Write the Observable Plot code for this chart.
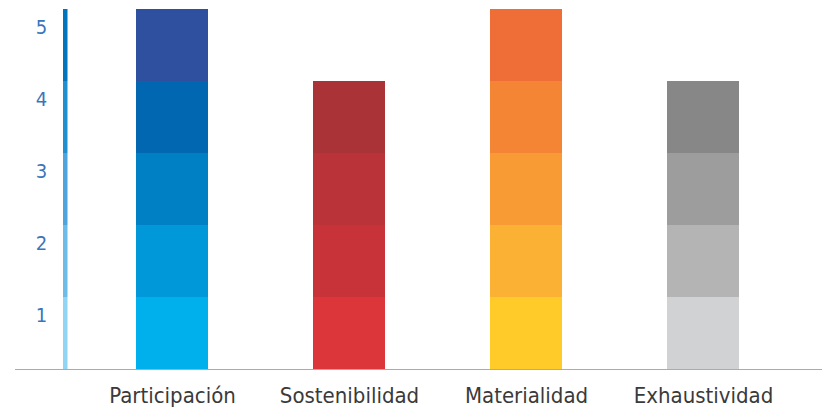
<!DOCTYPE html>
<html><head><meta charset="utf-8">
<script src="https://cdn.jsdelivr.net/npm/d3@7"></script>
<script src="https://cdn.jsdelivr.net/npm/@observablehq/plot@0.6"></script>
<style>body{margin:0;background:#fff;overflow:hidden}</style>
</head><body><div id="chart"></div>
<script>
const categories = ["Participación", "Sostenibilidad", "Materialidad", "Exhaustividad"];
const scores = [5, 4, 5, 4];
const levels = [1, 2, 3, 4, 5];
const levelLabels = ["1", "2", "3", "4", "5"];
const colorsParticipacion = ["#00b0ed", "#0098d8", "#0080c4", "#0067b0", "#2e509f"];
const colorsSostenibilidad = ["#dc353a", "#c8333a", "#b93338", "#a93337"];
const colorsMaterialidad = ["#ffcb29", "#fbb133", "#f89b35", "#f38535", "#ef6d37"];
const colorsExhaustividad = ["#d1d2d4", "#b4b4b4", "#9d9d9d", "#878788"];
const axisColors = ["#90d6f4", "#6cbbe8", "#4ea4dc", "#1f8fd0", "#0075bd"];

const palette = [colorsParticipacion, colorsSostenibilidad, colorsMaterialidad, colorsExhaustividad];
const segments = categories.flatMap((c, i) =>
  d3.range(1, scores[i] + 1).map(l => ({category: c, level: l, color: palette[i][l - 1]})));
const axisSegments = levels.map((l, i) => ({level: l, color: axisColors[i], label: levelLabels[i]}));

const W = 822, H = 414, mL = 63, mR = 10;
const fontFam = "'DejaVu Sans Condensed', 'Liberation Sans Narrow', 'DejaVu Sans', sans-serif";

const chart = Plot.plot({
  width: W, height: H,
  marginTop: 9, marginBottom: 45, marginLeft: mL, marginRight: mR,
  style: {fontFamily: fontFam, background: "white", overflow: "visible"},
  x: {domain: categories, paddingInner: 0.595, paddingOuter: 0.4054, label: null},
  y: {domain: [0, 5], axis: null},
  color: {type: "identity"},
  marks: [
    Plot.barY(segments, {x: "category", y1: d => d.level - 1, y2: "level", fill: "color", inset: 0}),
    Plot.rect(axisSegments, {y1: d => d.level - 1, y2: "level", fill: "color", insetRight: W - mL - mR - 4.5}),
    Plot.text(axisSegments, {y: "level", text: "label", frameAnchor: "left", dx: -22, dy: 18, fill: "#3a75bc", fontSize: 20, textAnchor: "middle"}),
    Plot.ruleY([0], {stroke: "#ababab", strokeWidth: 1.2, insetLeft: -48, insetRight: -10}),
    Plot.axisX({tickSize: 0, tickPadding: 18, fontSize: 22, fill: "#3a3a3a", label: null})
  ]
});
document.getElementById("chart").append(chart);
</script>
</body></html>
